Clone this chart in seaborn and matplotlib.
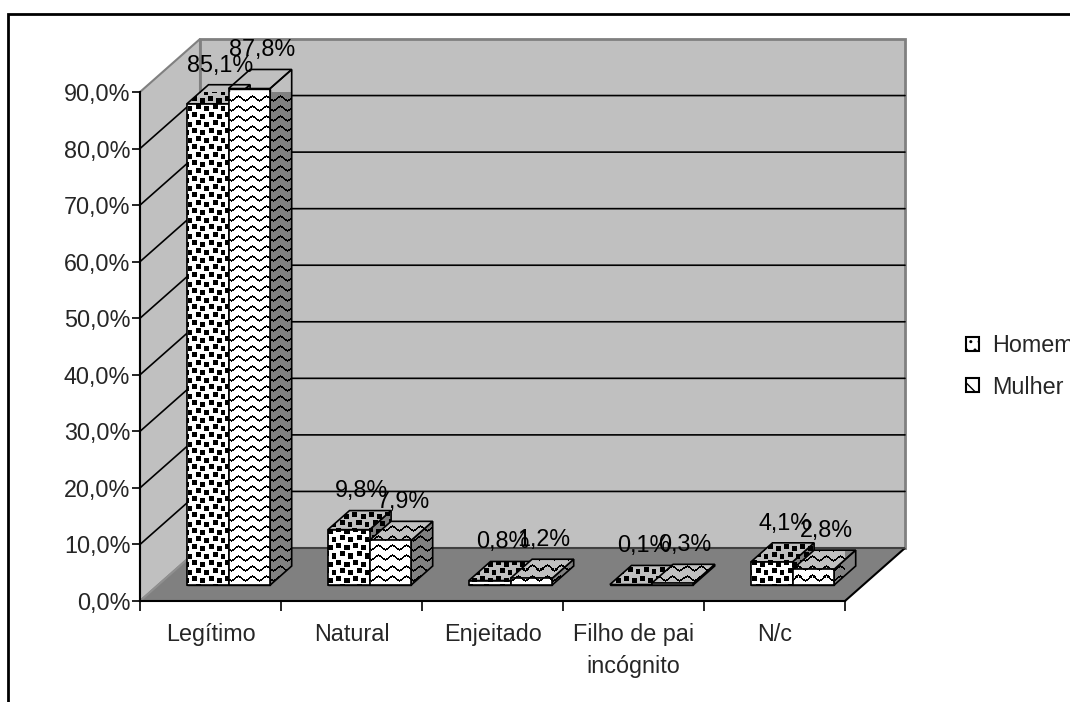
import numpy as np
import pandas as pd
import matplotlib
matplotlib.use("Agg")
import matplotlib.pyplot as plt
import seaborn as sns
from matplotlib.patches import Polygon, Rectangle, Patch
from matplotlib.transforms import Affine2D
from matplotlib.ticker import FixedLocator, FuncFormatter

# ---- data -------------------------------------------------------------
categories = ["Legítimo", "Natural", "Enjeitado", "Filho de pai\nincógnito", "N/c"]
series = ["Homem", "Mulher"]
homem = [85.1, 9.8, 0.8, 0.1, 4.1]
mulher = [87.8, 7.9, 1.2, 0.3, 2.8]
y_ticks = [0, 10, 20, 30, 40, 50, 60, 70, 80, 90]

# ---- figure -----------------------------------------------------------
sns.set_theme(style="white")
plt.rcParams["font.family"] = ["Liberation Sans", "DejaVu Sans"]
FS = 16.8

W, H, DPI = 1070, 702, 100
fig = plt.figure(figsize=(W / DPI, H / DPI), dpi=DPI)
fig.patch.set_facecolor("white")

# front plane of the pseudo-3D box
AX_L, AX_R, AX_B, AX_T = 140, 845, 601, 92
ax = fig.add_axes([AX_L / W, 1 - AX_B / H, (AX_R - AX_L) / W, (AX_B - AX_T) / H])
ax.set_facecolor("none")

df = pd.DataFrame({
    "categoria": categories * 2,
    "sexo": [s for s in series for _ in categories],
    "pct": homem + mulher,
})
sns.barplot(data=df, x="categoria", y="pct", hue="sexo", order=categories,
            hue_order=series, width=0.59, palette=["white", "white"],
            saturation=1, edgecolor="black", linewidth=1.0, errorbar=None,
            legend=False, ax=ax)

XMIN, XMAX, YMAX = -0.5, len(categories) - 0.5, 90
ax.set_xlim(XMIN, XMAX)
ax.set_ylim(0, YMAX)

# depth of the box (data units) and placement of the bars inside it
px_x = (AX_R - AX_L) / (XMAX - XMIN)
px_y = (AX_B - AX_T) / YMAX
DX = 60 / px_x
DY = 53 / px_y
F0 = 0.30   # front of the bars
FB = 0.36   # thickness of the bars


def P(x, y, d):
    return (x + d * DX, y + d * DY)


WALL = "#C0C0C0"
FLOOR = "#808080"

# walls and floor
ax.add_patch(Polygon([P(XMIN, 0, 0), P(XMIN, YMAX, 0), P(XMIN, YMAX, 1), P(XMIN, 0, 1)],
                     fc=WALL, ec="#808080", lw=1.5, zorder=0.5, clip_on=False))
ax.add_patch(Polygon([P(XMIN, 0, 1), P(XMAX, 0, 1), P(XMAX, YMAX, 1), P(XMIN, YMAX, 1)],
                     fc=WALL, ec="#808080", lw=2.0, zorder=0.5, clip_on=False))
ax.add_patch(Polygon([P(XMIN, 0, 0), P(XMAX, 0, 0), P(XMAX, 0, 1), P(XMIN, 0, 1)],
                     fc=FLOOR, ec="none", zorder=0.6, clip_on=False))
# floor edges
for a, b, c in [((XMAX, 0, 0), (XMAX, 0, 1), "black"),
                ((XMIN, 0, 1), (XMAX, 0, 1), "#404040"),
                ((XMIN, 0, 0), (XMIN, 0, 1), "#909090")]:
    pa, pb = P(*a), P(*b)
    ax.plot([pa[0], pb[0]], [pa[1], pb[1]], color=c, lw=1.5, zorder=0.7,
            clip_on=False, solid_capstyle="butt")

# gridlines along the side wall and the back wall
for v in y_ticks[1:-1]:
    pts = [P(XMIN, v, 0), P(XMIN, v, 1), P(XMAX, v, 1)]
    ax.plot([p[0] for p in pts], [p[1] for p in pts], color="black", lw=1.2,
            zorder=0.8, clip_on=False)


# ---- pattern fills ----------------------------------------------------
def pattern_mask(kind, cols, rows):
    X, Y = np.meshgrid(cols.astype(int), rows.astype(int))
    if kind == "Homem":
        tile = np.zeros((16, 16), bool)
        for r, c in [(0, 0), (2, 8), (8, 4), (10, 12)]:
            tile[r:r + 5, c:c + 5] = True
        return tile[Y % 16, X % 16]
    tri = np.round(np.abs((X % 14) - 7) * 5 / 7).astype(int)
    d = (Y + tri) % 10
    return (d == 0) | (d == 1)


def textured(poly_xy, kind, bg, z):
    poly = Polygon(poly_xy, closed=True, fc="none", ec="black", lw=1.2,
                   zorder=z + 0.05, clip_on=False)
    ax.add_patch(poly)
    disp = ax.transData.transform(np.asarray(poly_xy))
    x0, y0 = np.floor(disp.min(axis=0))
    x1, y1 = np.ceil(disp.max(axis=0))
    w, h = int(x1 - x0), int(y1 - y0)
    if w < 1 or h < 1:
        return
    cols = x0 + np.arange(w)
    rows = (H - y1) + np.arange(h)
    mask = pattern_mask(kind, cols, rows)
    rgb = np.array(matplotlib.colors.to_rgb(bg))
    img = np.empty(mask.shape + (3,))
    img[:] = rgb
    img[mask] = 0.0
    ext = ax.transData.inverted().transform([[x0, y0], [x1, y1]])
    im = ax.imshow(img, extent=(ext[0, 0], ext[1, 0], ext[0, 1], ext[1, 1]),
                   origin="upper", aspect="auto", interpolation="nearest",
                   zorder=z, clip_path=poly)
    im.set_clip_box(None)


shift = Affine2D().translate(F0 * DX, F0 * DY)
for si, (name, cont) in enumerate(zip(series, ax.containers)):
    for bar in cont.patches:
        bar.set_transform(shift + ax.transData)
        bar.set_clip_on(False)
        x0, w, h = bar.get_x(), bar.get_width(), bar.get_height()
        z = 2 + si
        bar.set_zorder(z - 0.1)
        front = [P(x0, 0, F0), P(x0 + w, 0, F0), P(x0 + w, h, F0), P(x0, h, F0)]
        top = [P(x0, h, F0), P(x0 + w, h, F0), P(x0 + w, h, F0 + FB), P(x0, h, F0 + FB)]
        side = [P(x0 + w, 0, F0), P(x0 + w, 0, F0 + FB), P(x0 + w, h, F0 + FB), P(x0 + w, h, F0)]
        textured(side, name, FLOOR, z)
        textured(top, name, WALL, z + 0.1)
        textured(front, name, "white", z + 0.2)

# value labels above each bar
for si, cont in enumerate(ax.containers):
    for bar in cont.patches:
        x0, w, h = bar.get_x(), bar.get_width(), bar.get_height()
        xy = P(x0 + w / 2, h, F0 + FB / 2)
        ax.annotate(f"{h:.1f}%".replace(".", ","), xy=xy, xytext=(1.5, 21),
                    textcoords="offset points", ha="center", va="center",
                    fontsize=FS, color="black", zorder=6, annotation_clip=False)

# ---- axes -------------------------------------------------------------
for s in ["top", "right"]:
    ax.spines[s].set_visible(False)
for s in ["left", "bottom"]:
    ax.spines[s].set_color("black")
    ax.spines[s].set_linewidth(1.5)
    ax.spines[s].set_zorder(1)

ax.yaxis.set_major_locator(FixedLocator(y_ticks))
ax.yaxis.set_major_formatter(FuncFormatter(lambda v, _: f"{v:.1f}%".replace(".", ",")))
ax.tick_params(axis="y", which="major", length=6, width=1.2, color="black",
               direction="out", pad=1, labelsize=FS, left=True)
ax.set_xticks(range(len(categories)))
ax.set_xticklabels(categories, fontsize=FS, linespacing=1.5)
ax.set_xticks(np.arange(XMIN, XMAX + 0.01, 1.0), minor=True)
ax.tick_params(axis="x", which="major", length=0, pad=15.5, labelsize=FS)
ax.tick_params(axis="x", which="minor", length=7, width=1.2, color="black",
               direction="out", bottom=True)
ax.set_xlabel("")
ax.set_ylabel("")
ax.grid(False)

# legend
handles = [Patch(fc="white", ec="black", lw=1.5, hatch=".."),
           Patch(fc="white", ec="black", lw=1.5, hatch="\\\\")]
fig.legend(handles, series, loc="upper left", bbox_to_anchor=(966 / W, 1 - 334 / H),
           frameon=False, fontsize=FS, handlelength=0.55, handleheight=0.55,
           handletextpad=0.55, labelspacing=0.8, borderpad=0, borderaxespad=0)

# chart frame
fig.add_artist(Rectangle((8 / W, -0.05), 1.2, 1 - 14 / H + 0.05, transform=fig.transFigure,
                         fill=False, ec="black", lw=2.0))

ax.set_xlim(XMIN, XMAX)
ax.set_ylim(0, YMAX)
fig.savefig("out.png", dpi=DPI)
